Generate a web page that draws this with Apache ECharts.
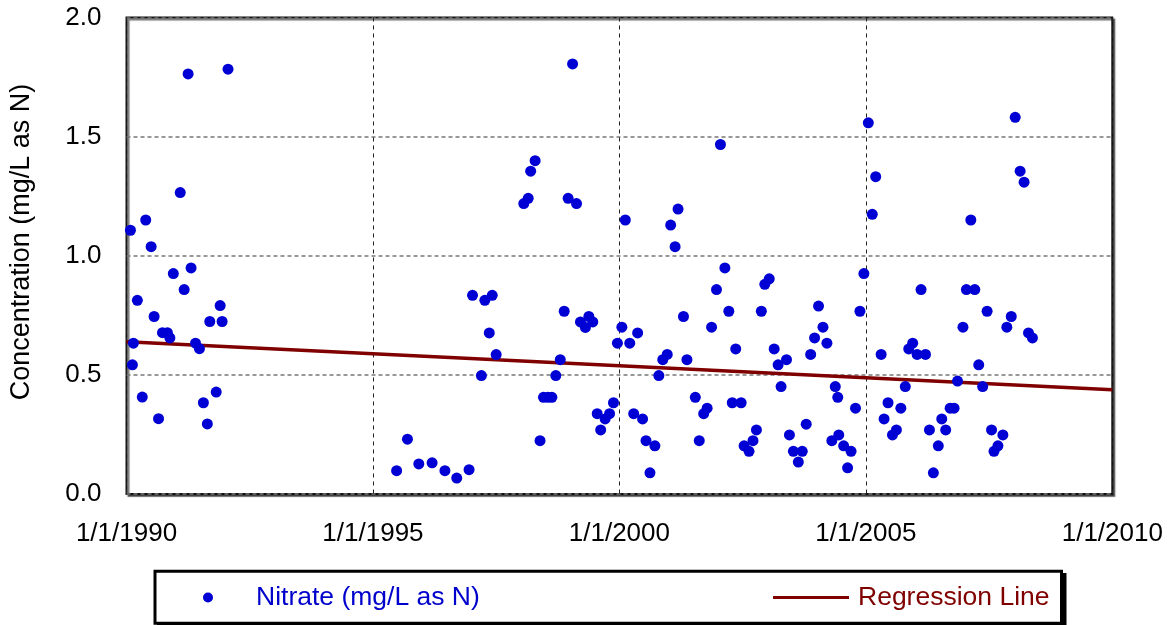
<!DOCTYPE html>
<html>
<head>
<meta charset="utf-8">
<script src="https://cdn.jsdelivr.net/npm/echarts@6/dist/echarts.min.js"></script>
<style>
html,body{margin:0;padding:0;background:#fff;}
#chart{width:1172px;height:625px;}
</style>
</head>
<body>
<div id="chart"></div>
<script>
// Sample dates as decimal years, and nitrate concentration (mg/L as N)
const nitrateYears = [
1990.08,1990.12,1990.14,1990.22,1990.32,1990.39,1990.50,1990.56,1990.65,1990.73,1990.83,1990.88,1990.95,
1991.09,1991.17,1991.25,1991.31,1991.40,1991.48,1991.56,1991.64,1991.69,1991.82,1991.90,1991.94,1992.06,
1995.48,1995.70,1995.93,1996.20,1996.46,1996.70,1996.95,
1997.02,1997.20,1997.27,1997.36,1997.42,1997.50,
1998.06,1998.15,1998.20,1998.29,1998.39,1998.46,1998.55,1998.63,1998.71,1998.80,1998.88,1998.96,
1999.05,1999.13,1999.21,1999.31,1999.38,1999.46,1999.55,1999.62,1999.71,1999.80,1999.88,1999.96,
2000.05,2000.12,2000.21,2000.29,2000.37,2000.47,2000.54,2000.62,2000.72,2000.80,2000.88,2000.97,
2001.04,2001.13,2001.19,2001.30,2001.37,2001.54,2001.62,2001.71,2001.78,2001.87,2001.97,
2002.05,2002.14,2002.22,2002.29,2002.36,2002.47,2002.53,2002.63,2002.71,2002.78,2002.88,2002.95,
2003.04,2003.14,2003.22,2003.28,2003.39,2003.45,2003.53,2003.63,2003.71,2003.79,2003.88,2003.96,
2004.04,2004.13,2004.21,2004.31,2004.38,2004.43,2004.45,2004.55,2004.63,2004.70,2004.79,2004.88,2004.96,
2005.05,2005.13,2005.20,2005.31,2005.37,2005.45,2005.54,2005.62,2005.71,2005.80,2005.87,2005.95,
2006.04,2006.12,2006.21,2006.29,2006.37,2006.47,2006.54,2006.62,2006.71,2006.79,2006.86,2006.97,
2007.04,2007.13,2007.21,2007.29,2007.37,2007.46,2007.55,2007.60,2007.68,2007.78,2007.86,2007.95,
2008.03,2008.13,2008.21,2008.30,2008.38
];
const nitrateValues = [
1.107,0.542,0.633,0.813,0.407,1.150,1.038,0.745,0.316,0.677,0.677,0.655,0.925,
1.265,0.858,1.763,0.949,0.633,0.610,0.383,0.294,0.724,0.428,0.791,0.724,1.783,
0.098,0.230,0.126,0.131,0.098,0.067,0.102,
0.834,0.497,0.813,0.676,0.834,0.585,
1.219,1.241,1.355,1.399,0.224,0.406,0.406,0.406,0.497,0.564,0.767,1.241,
1.805,1.219,0.722,0.699,0.745,0.722,0.337,0.269,0.315,0.337,0.383,0.633,
0.700,1.150,0.633,0.337,0.676,0.315,0.224,0.089,0.202,0.497,0.564,0.586,
1.129,1.038,1.196,0.745,0.564,0.406,0.224,0.337,0.360,0.700,0.858,
1.467,0.949,0.767,0.383,0.609,0.383,0.202,0.179,0.224,0.269,0.767,0.880,
0.903,0.609,0.542,0.451,0.564,0.248,0.179,0.134,0.179,0.293,0.586,0.655,
0.789,0.700,0.633,0.224,0.451,0.406,0.248,0.202,0.110,0.179,0.360,0.767,0.925,
1.558,1.174,1.332,0.586,0.315,0.383,0.248,0.269,0.360,0.451,0.609,0.633,
0.586,0.858,0.586,0.269,0.089,0.202,0.315,0.269,0.360,0.360,0.474,0.700,
0.858,1.150,0.858,0.542,0.451,0.767,0.269,0.179,0.202,0.248,0.700,0.745,
1.581,1.355,1.309,0.676,0.655
];
const regressionYears = [1990, 2010];
const regressionValues = [0.639, 0.438];
const xTicks = [1990, 1995, 2000, 2005, 2010];
const yTicks = [0, 0.5, 1.0, 1.5, 2.0];
const seriesNames = ['Nitrate (mg/L as N)', 'Regression Line'];
const axisTitle = 'Concentration (mg/L as N)';

const FONT = "'Liberation Sans', Arial, sans-serif";
const chart = echarts.init(document.getElementById('chart'), null, {renderer: 'canvas'});

const scatterData = nitrateYears.map((y, i) => [y, nitrateValues[i]]);
const lineData = regressionYears.map((y, i) => [y, regressionValues[i]]);

chart.setOption({
  animation: false,
  backgroundColor: '#ffffff',
  grid: {
    left: 126.5, right: 59.7, top: 17.5, bottom: 131,
    show: true, backgroundColor: '#ffffff',
    borderColor: '#111111', borderWidth: 2,
    shadowColor: 'rgba(0,0,0,0.55)', shadowOffsetX: 2, shadowOffsetY: 2, shadowBlur: 1
  },
  xAxis: {
    type: 'value', min: xTicks[0], max: xTicks[xTicks.length - 1], interval: 5,
    axisLine: {show: false}, axisTick: {show: false},
    axisLabel: {
      margin: 27, color: '#000', fontFamily: FONT, fontSize: 26,
      formatter: v => xTicks.indexOf(v) >= 0 ? '1/1/' + v : ''
    },
    splitLine: {show: true, lineStyle: {color: '#222', type: [4, 4], width: 1}}
  },
  yAxis: {
    type: 'value', min: yTicks[0], max: yTicks[yTicks.length - 1], interval: 0.5,
    axisLine: {show: false}, axisTick: {show: false},
    axisLabel: {
      margin: 25, color: '#000', fontFamily: FONT, fontSize: 26,
      formatter: v => v.toFixed(1)
    },
    splitLine: {show: true, lineStyle: {color: '#777', type: [4, 3], width: 1.5}}
  },
  legend: [
    {
      data: [seriesNames[0]], left: 203, top: 584, padding: 0,
      icon: 'circle', itemWidth: 10, itemHeight: 10,
      textStyle: {color: '#0000cc', fontFamily: FONT, fontSize: 26.5, lineHeight: 26, padding: [0, 0, 0, 38]},
      selectedMode: false
    },
    {
      data: [seriesNames[1]], left: 773, top: 584, padding: 0,
      icon: 'rect', itemWidth: 76, itemHeight: 3,
      textStyle: {color: '#800000', fontFamily: FONT, fontSize: 26.5, lineHeight: 26, padding: [0, 0, 0, 4]},
      selectedMode: false
    }
  ],
  graphic: [
    {
      type: 'rect', z: -2, silent: true,
      shape: {x: 158.5, y: 574.5, width: 906.5, height: 52},
      style: {fill: '#000000', stroke: '#000000', lineWidth: 3}
    },
    {
      type: 'rect', z: -1, silent: true,
      shape: {x: 155, y: 571.2, width: 906.5, height: 52},
      style: {fill: '#ffffff', stroke: '#000000', lineWidth: 3}
    },
    {
      type: 'text', silent: true, x: 22, y: 242, rotation: Math.PI / 2,
      style: {text: axisTitle, fill: '#000', font: "27px 'Liberation Sans', Arial, sans-serif",
        align: 'center', verticalAlign: 'middle'}
    }
  ],
  series: [
    {
      name: seriesNames[0], type: 'scatter', data: scatterData,
      symbol: 'circle', symbolSize: 11,
      itemStyle: {color: '#0000d4', opacity: 1}, z: 3
    },
    {
      name: seriesNames[1], type: 'line', data: lineData,
      symbol: 'none', showSymbol: false,
      lineStyle: {color: '#800000', width: 3.5},
      itemStyle: {color: '#800000'}, z: 2
    }
  ]
});
</script>
</body>
</html>
